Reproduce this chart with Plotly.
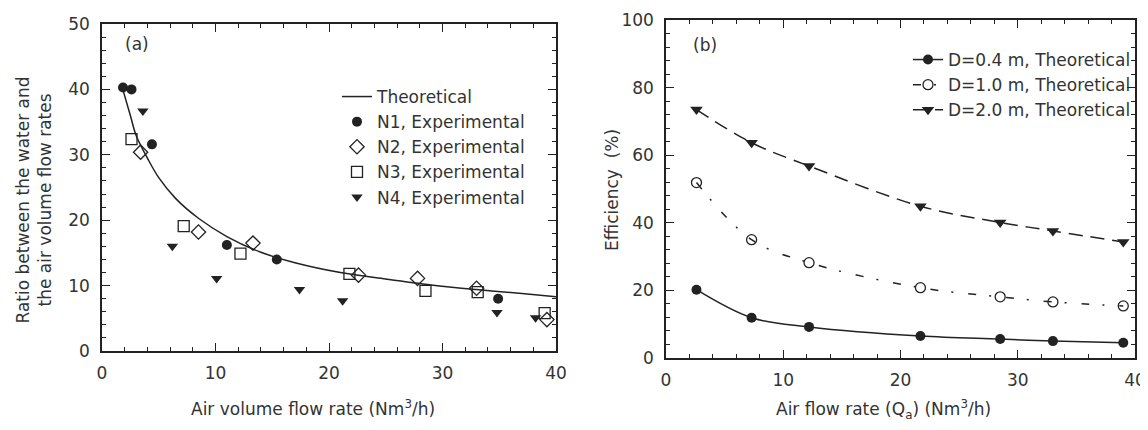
import plotly.graph_objects as go

# ---- Panel (a) data ----
theo_x = [1.8, 2.5, 3.0, 4.0, 5.0, 6.5, 8.5, 11, 14, 17, 21, 25, 29, 33, 37, 40]
theo_y = [40.2, 36.0, 33.0, 29.5, 26.5, 23.3, 20.3, 17.5, 15.1, 13.5, 12.0, 11.0, 10.1, 9.4, 8.8, 8.3]

n1_x = [1.85, 2.6, 4.4, 11.0, 15.4, 34.9]
n1_y = [40.3, 40.0, 31.6, 16.2, 14.0, 8.0]

n2_x = [3.4, 8.5, 13.3, 22.6, 27.8, 33.0, 39.2]
n2_y = [30.4, 18.2, 16.5, 11.6, 11.1, 9.6, 4.8]

n3_x = [2.6, 7.2, 12.2, 21.8, 28.5, 33.1, 39.0]
n3_y = [32.4, 19.1, 14.9, 11.8, 9.2, 9.0, 5.8]

n4_x = [3.6, 6.2, 10.1, 17.4, 21.2, 34.8, 38.2]
n4_y = [36.7, 16.0, 11.1, 9.4, 7.7, 5.9, 5.1]

# ---- Panel (b) data ----
qa = [2.6, 7.3, 12.2, 21.7, 28.5, 33.0, 39.0]
eff_d04 = [20.2, 11.9, 9.2, 6.5, 5.6, 5.0, 4.5]
eff_d10 = [51.9, 35.0, 28.2, 20.8, 18.1, 16.6, 15.4]
eff_d20 = [73.5, 63.7, 56.8, 44.9, 40.1, 37.6, 34.3]

INK = "#222222"
TXT = "#333333"
FONT = "DejaVu Sans, Liberation Sans, Arial, sans-serif"

# the page body has an 8px margin: size the figure so the page fits the window
OFF = 8
W, H = 1148 - 2 * OFF, 430 - 2 * OFF


def px(x):
    return (x - OFF) / W


def py(y):
    return 1 - (y - OFF) / H


fig = go.Figure()

# Panel (a)
fig.add_trace(go.Scatter(x=theo_x, y=theo_y, mode="lines", name="Theoretical",
                         line=dict(color=INK, width=1.5, shape="spline"),
                         xaxis="x", yaxis="y", legend="legend"))
fig.add_trace(go.Scatter(x=n1_x, y=n1_y, mode="markers", name="N1, Experimental",
                         marker=dict(symbol="circle", size=10, color=INK),
                         xaxis="x", yaxis="y", legend="legend"))
fig.add_trace(go.Scatter(x=n2_x, y=n2_y, mode="markers", name="N2, Experimental",
                         marker=dict(symbol="diamond-open", size=11, color=INK, line=dict(width=1.3)),
                         xaxis="x", yaxis="y", legend="legend"))
fig.add_trace(go.Scatter(x=n3_x, y=n3_y, mode="markers", name="N3, Experimental",
                         marker=dict(symbol="square-open", size=11, color=INK, line=dict(width=1.3)),
                         xaxis="x", yaxis="y", legend="legend"))
fig.add_trace(go.Scatter(x=n4_x, y=n4_y, mode="markers", name="N4, Experimental",
                         marker=dict(symbol="triangle-down", size=10, color=INK),
                         xaxis="x", yaxis="y", legend="legend"))

# Panel (b)
fig.add_trace(go.Scatter(x=qa, y=eff_d04, mode="lines+markers", name="D=0.4 m, Theoretical",
                         line=dict(color=INK, width=1.5, shape="spline"),
                         marker=dict(symbol="circle", size=10, color=INK),
                         xaxis="x2", yaxis="y2", legend="legend2"))
fig.add_trace(go.Scatter(x=qa, y=eff_d10, mode="lines+markers", name="D=1.0 m, Theoretical",
                         line=dict(color=INK, width=1.5, shape="spline", dash="8px,13px,2px,15px"),
                         marker=dict(symbol="circle-open", size=10, color=INK, line=dict(width=1.3)),
                         xaxis="x2", yaxis="y2", legend="legend2"))
fig.add_trace(go.Scatter(x=qa, y=eff_d20, mode="lines+markers", name="D=2.0 m, Theoretical",
                         line=dict(color=INK, width=1.5, shape="spline", dash="14px,8px"),
                         marker=dict(symbol="triangle-down", size=11, color=INK),
                         xaxis="x2", yaxis="y2", legend="legend2"))

axis_common = dict(showgrid=False, zeroline=False, showline=True, linecolor=INK, linewidth=1.5,
                   mirror="allticks", ticks="inside", ticklen=8, tickwidth=1.2, tickcolor=INK,
                   automargin=False, ticklabeloverflow="allow",
                   tickfont=dict(family=FONT, size=17, color=TXT))
minor_common = dict(ticks="inside", ticklen=4, tickwidth=1.1, tickcolor=INK)


def label(text, x, y, angle=0):
    return dict(text=text, x=px(x), y=py(y), xref="paper", yref="paper",
                xanchor="center", yanchor="middle", showarrow=False, textangle=angle,
                font=dict(family=FONT, size=17, color=TXT))


fig.update_layout(
    width=W, height=H,
    margin=dict(l=0, r=0, t=0, b=0, autoexpand=False),
    paper_bgcolor="white", plot_bgcolor="white",
    font=dict(family=FONT, color=TXT, size=16),
    xaxis=dict(domain=[px(102), px(556)], range=[0, 40], dtick=10, anchor="y",
               minor=dict(dtick=2, **minor_common), ticklabelstandoff=6, **axis_common),
    yaxis=dict(domain=[py(351), py(24)], range=[0, 50], dtick=10, anchor="x",
               minor=dict(dtick=2, **minor_common), ticklabelstandoff=7, **axis_common),
    xaxis2=dict(domain=[px(666), px(1135)], range=[0, 40], dtick=10, anchor="y2",
                minor=dict(dtick=2, **minor_common), ticklabelstandoff=6, **axis_common),
    yaxis2=dict(domain=[py(358), py(20)], range=[0, 100], dtick=20, anchor="x2",
                minor=dict(dtick=4, **minor_common), ticklabelstandoff=7, **axis_common),
    legend=dict(x=px(337), y=py(79), xanchor="left", yanchor="top",
                bgcolor="rgba(0,0,0,0)", font=dict(family=FONT, size=17, color=TXT),
                tracegroupgap=0),
    legend2=dict(x=px(1136), y=py(42), xanchor="right", yanchor="top",
                 bgcolor="rgba(0,0,0,0)", font=dict(family=FONT, size=17, color=TXT),
                 tracegroupgap=0),
    annotations=[
        dict(text="(a)", x=3.1, y=46.9, xref="x", yref="y", showarrow=False,
             xanchor="center", yanchor="middle",
             font=dict(family=FONT, size=17, color=TXT)),
        dict(text="(b)", x=3.3, y=92.6, xref="x2", yref="y2", showarrow=False,
             xanchor="center", yanchor="middle",
             font=dict(family=FONT, size=17, color=TXT)),
        label("Ratio between the water and<br>the air volume flow rates", 33.5, 200, -90),
        label("Efficiency  (%)", 612, 190, -90),
        label("Air volume flow rate (Nm<sup>3</sup>/h)", 313, 408),
        label("Air flow rate (Q<sub>a</sub>) (Nm<sup>3</sup>/h)", 884, 409),
    ],
    showlegend=True,
)

fig.write_html("out.html")
